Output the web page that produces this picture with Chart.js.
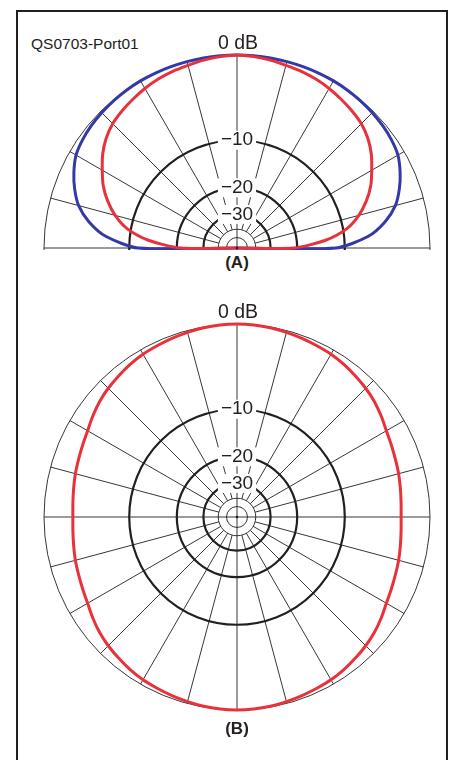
<!DOCTYPE html>
<html>
<head>
<meta charset="utf-8">
<script src="https://cdn.jsdelivr.net/npm/chart.js@4.4.0/dist/chart.umd.min.js"></script>
<style>
  html, body { margin: 0; padding: 0; background: #fff; }
  body { width: 449px; height: 760px; position: relative; overflow: hidden;
         font-family: "Liberation Sans", Arial, sans-serif; color: #231f20; }
  #frame { position: absolute; left: 16px; top: 10px; width: 432px; height: 780px;
           border: 2px solid #231f20; border-bottom: none; box-sizing: border-box; }
  #tag { position: absolute; left: 31px; top: 36px; font-size: 15.5px; line-height: 16px; }
  #boxA { position: absolute; left: 0; top: 0; width: 449px; height: 250px; overflow: hidden; }
  #chartA { position: absolute; left: 0; top: 6px; }
  #chartB { position: absolute; left: 0; top: 275px; }
  .cap { position: absolute; left: 137px; width: 200px; text-align: center;
         font-weight: bold; font-size: 17px; line-height: 17px; }
</style>
</head>
<body>
<div id="frame"></div>
<div id="tag">QS0703-Port01</div>
<div id="boxA"><canvas id="chartA" width="449" height="454"></canvas></div>
<div class="cap" style="top:254px">(A)</div>
<canvas id="chartB" width="449" height="454"></canvas>
<div class="cap" style="top:720px">(B)</div>

<script>
// (A) elevación 0..180 grados, en dB
const elevAngles = [0, 5, 10, 15, 20, 25, 30, 35, 40, 45, 50, 55, 60, 65, 70, 75, 80, 85, 90,
  95, 100, 105, 110, 115, 120, 125, 130, 135, 140, 145, 150, 155, 160, 165, 170, 175, 180];
const blueDb = [-11.5, -6.6, -4.3, -2.8, -1.9, -1.2, -0.65, -0.4, -0.25, -0.15, -0.08, -0.03, 0, 0, 0, 0, 0, 0, 0,
  0, 0, 0, 0, 0, 0, -0.03, -0.08, -0.15, -0.25, -0.4, -0.65, -1.2, -1.9, -2.8, -4.3, -6.6, -11.5];
const redDb = [-21, -13.3, -9.4, -7.3, -5.8, -4.6, -3.7, -2.8, -2.1, -1.6, -1.3, -1.05, -0.8, -0.6, -0.45, -0.35, -0.2, -0.08, 0,
  -0.08, -0.2, -0.35, -0.45, -0.6, -0.8, -1.05, -1.3, -1.6, -2.1, -2.8, -3.7, -4.6, -5.8, -7.3, -9.4, -13.3, -21];

// (B) azimut 0..355 grados, en dB
const azAngles = [];
for (let a = 0; a < 360; a += 5) azAngles.push(a);
const azDb = [0, -0.02, -0.07, -0.16, -0.26, -0.36, -0.45, -0.6, -0.8, -1.0, -1.25, -1.58, -1.93, -2.15, -2.32, -2.45, -2.6, -2.72, -2.78,
  -2.72, -2.6, -2.45, -2.32, -2.15, -1.93, -1.58, -1.25, -1.0, -0.8, -0.6, -0.45, -0.36, -0.26, -0.16, -0.07, -0.02, 0,
  -0.02, -0.07, -0.16, -0.26, -0.36, -0.45, -0.6, -0.8, -1.0, -1.25, -1.58, -1.93, -2.15, -2.32, -2.45, -2.6, -2.72, -2.78,
  -2.72, -2.6, -2.45, -2.32, -2.15, -1.93, -1.58, -1.25, -1.0, -0.8, -0.6, -0.45, -0.36, -0.26, -0.16, -0.07, -0.02];

// anillos de la escala ARRL
const ringDb = [-50, -40, -30, -20, -10, 0];
const ringLabels = ['', '', '\u221230', '\u221220', '\u221210', ''];
const boldRings = [-30, -20, -10];
const spokeAngles = [];
for (let a = 0; a < 360; a += 15) spokeAngles.push(a);

const ink = '#231f20';
const red = '#e8323b';
const blue = '#3539a5';
const fontFamily = '"Liberation Sans", Arial, sans-serif';

// escala logarítmica periódica (ARRL)
const toRing = db => Math.pow(0.89, -db / 2);

// ángulo horario desde arriba -> índice de etiqueta (pasos de 5 grados)
const angleLabels = azAngles.map(a => a + '°');

function elevSeries(values) {
  const n = angleLabels.length;
  const out = new Array(n).fill(null);
  elevAngles.forEach((e, i) => {
    out[((90 - e) / 5 + n) % n] = toRing(values[i]);
  });
  // la curva sigue la línea de base pasando por el centro
  out[n / 2] = 0;
  return out;
}

// radios y rótulo "0 dB"
const polarGrid = {
  id: 'polarGrid',
  beforeDraw(chart) {
    const s = chart.scales.r;
    const ctx = chart.ctx;
    ctx.save();
    ctx.strokeStyle = ink;
    ctx.lineWidth = 0.9;
    spokeAngles.forEach(a => {
      const idx = a / 5;
      const p0 = a % 90 === 0
        ? { x: s.xCenter, y: s.yCenter }
        : s.getPointPositionForValue(idx, toRing(-40));
      const p1 = s.getPointPositionForValue(idx, 1);
      ctx.beginPath();
      ctx.moveTo(p0.x, p0.y);
      ctx.lineTo(p1.x, p1.y);
      ctx.stroke();
    });
    ctx.restore();
  },
  afterDraw(chart) {
    const s = chart.scales.r;
    const ctx = chart.ctx;
    ctx.save();
    ctx.fillStyle = ink;
    ctx.beginPath();
    ctx.arc(s.xCenter, s.yCenter, 1.3, 0, Math.PI * 2);
    ctx.fill();
    ctx.font = '19.5px ' + fontFamily;
    ctx.textAlign = 'center';
    ctx.textBaseline = 'alphabetic';
    ctx.fillText('0 dB', s.xCenter + 1, s.yCenter - s.drawingArea - 6);
    ctx.restore();
  }
};

function makePolar(id, datasets, tension) {
  return new Chart(document.getElementById(id), {
    type: 'radar',
    data: { labels: angleLabels, datasets },
    options: {
      responsive: false,
      animation: false,
      devicePixelRatio: 1,
      layout: { padding: { left: 35, right: 9, top: 40, bottom: 9 } },
      plugins: { legend: { display: false }, tooltip: { enabled: false } },
      elements: { point: { radius: 0 }, line: { tension: tension, borderWidth: 3 } },
      scales: {
        r: {
          min: 0,
          max: 1,
          startAngle: 0,
          angleLines: { display: false },
          pointLabels: { display: false },
          afterBuildTicks: axis => {
            axis.ticks = [{ value: 0 }].concat(ringDb.map(d => ({ value: toRing(d) })));
          },
          grid: {
            circular: true,
            color: ink,
            lineWidth: c => boldRings.includes(ringDb[c.index - 1]) ? 2.2 : 0.9
          },
          ticks: {
            callback: (v, i) => i === 0 ? '' : ringLabels[i - 1],
            color: ink,
            font: { size: 19, family: fontFamily },
            showLabelBackdrop: c => !!(c.tick && c.tick.label),
            backdropColor: '#fff',
            backdropPadding: { x: 3, y: 0 }
          }
        }
      }
    },
    plugins: [polarGrid]
  });
}

makePolar('chartA', [
  { label: 'rojo', data: elevSeries(redDb), borderColor: red, backgroundColor: 'transparent', fill: false, spanGaps: true },
  { label: 'azul', data: elevSeries(blueDb), borderColor: blue, backgroundColor: 'transparent', fill: false, spanGaps: true }
], 0.25);

makePolar('chartB', [
  { label: 'rojo', data: azDb.map(toRing), borderColor: red, backgroundColor: 'transparent', fill: false }
], 0.3);
</script>
</body>
</html>
